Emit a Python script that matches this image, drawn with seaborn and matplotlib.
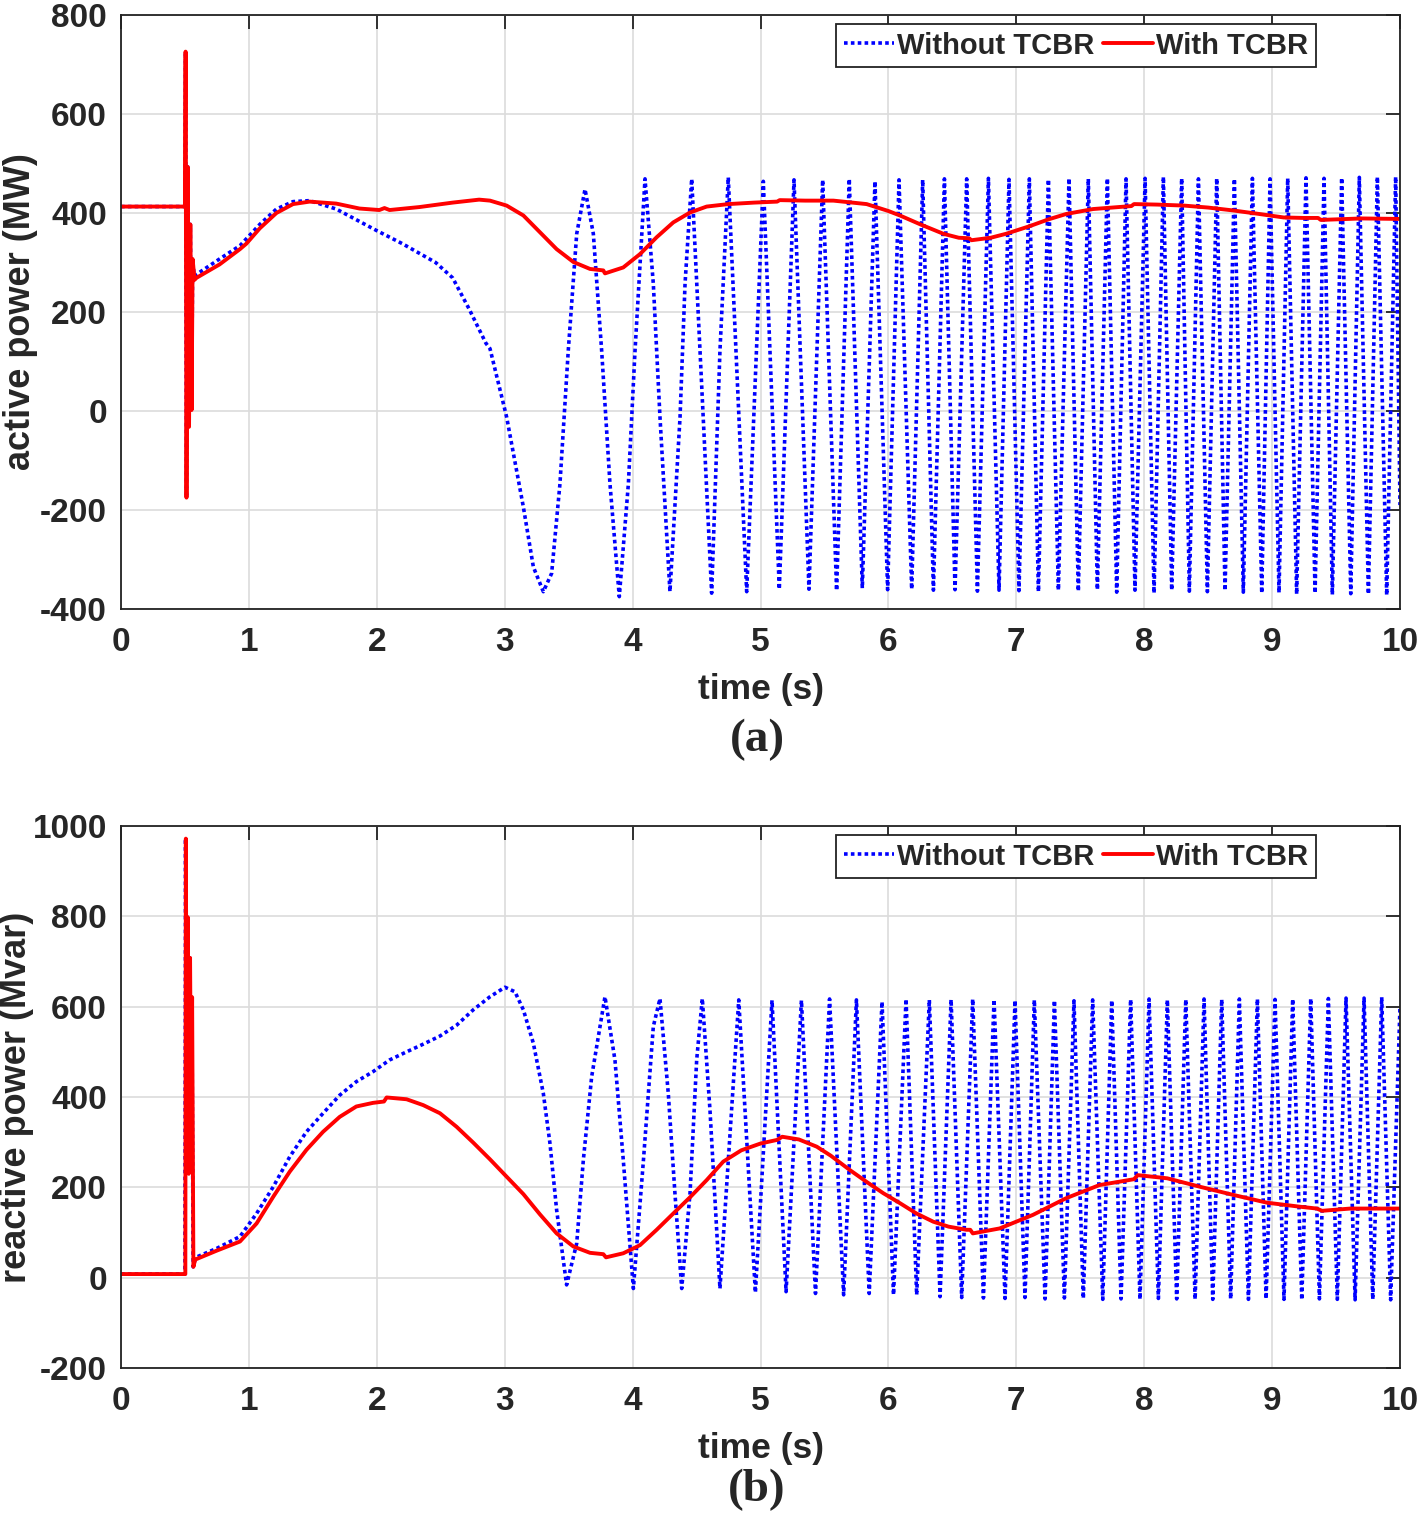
import matplotlib
matplotlib.use("Agg")
import matplotlib.pyplot as plt
import seaborn as sns

# ---- panel (a): active power (MW) ----
t_a_without = [0, 0.500, 0.505, 0.512, 0.522, 0.532, 0.542, 0.552, 0.560, 0.575,
               0.59, 0.77, 0.93, 1.085, 1.215, 1.345, 1.475, 1.683, 1.995, 2.20,
               2.46, 2.593, 2.72, 2.853, 2.885, 3.015, 3.146, 3.224, 3.302, 3.367,
               3.432, 3.497, 3.563, 3.628, 3.693, 3.758, 3.823, 3.896, 3.967, 4.019,
               4.097, 4.162, 4.214, 4.292, 4.371, 4.41, 4.462, 4.527, 4.618, 4.683,
               4.748, 4.892, 5.022, 5.147, 5.262, 5.379, 5.486, 5.595, 5.694, 5.796,
               5.895, 5.994, 6.083, 6.182, 6.268, 6.352, 6.438, 6.521, 6.612, 6.696,
               6.782, 6.865, 6.943, 7.021, 7.102, 7.173, 7.251, 7.329, 7.412, 7.485,
               7.563, 7.634, 7.712, 7.785, 7.858, 7.928, 8.007, 8.077, 8.150, 8.215,
               8.293, 8.353, 8.424, 8.494, 8.567, 8.632, 8.705, 8.775, 8.846, 8.919,
               8.984, 9.054, 9.122, 9.192, 9.265, 9.336, 9.406, 9.471, 9.544, 9.615,
               9.682, 9.753, 9.823, 9.896, 9.966, 10.0]
p_a_without = [413, 413, 726, -175, 493, -32, 377, 2, 307, 265,
               276, 307, 334, 377, 408, 423, 425, 408, 365, 338,
               300, 269, 207, 137, 126, -12, -194, -315, -365, -328,
               -147, 122, 358, 448, 358, 122, -147, -375, -147, 122,
               469, 257, -12, -365, -12, 257, 469, 122, -368, 122,
               472, -365, 464, -360, 467, -360, 467, -363, 469, -358,
               464, -361, 467, -360, 467, -362, 469, -361, 469, -364,
               470, -362, 468, -363, 469, -365, 468, -362, 470, -364,
               469, -361, 470, -366, 469, -362, 470, -368, 473, -362,
               470, -364, 469, -365, 470, -363, 469, -366, 470, -368,
               469, -367, 470, -370, 471, -368, 470, -371, 471, -369,
               472, -370, 473, -372, 473, -190]

t_a_with = [0, 0.500, 0.505, 0.512, 0.522, 0.532, 0.542, 0.552, 0.560, 0.575,
            0.59, 0.77, 0.93, 0.98, 1.085, 1.215, 1.345, 1.475, 1.683, 1.865,
            2.02, 2.06, 2.10, 2.333, 2.593, 2.80, 2.885, 3.015, 3.146, 3.276,
            3.406, 3.537, 3.667, 3.771, 3.784, 3.927, 4.058, 4.188, 4.318, 4.449,
            4.579, 4.748, 4.95, 5.13, 5.15, 5.35, 5.57, 5.83, 6.00, 6.09,
            6.25, 6.43, 6.55, 6.63, 6.65, 6.80, 6.92, 7.10, 7.25, 7.39,
            7.60, 7.90, 7.92, 8.10, 8.31, 8.50, 8.70, 8.90, 9.09, 9.25,
            9.36, 9.38, 9.70, 10.0]
p_a_with = [413, 413, 726, -175, 493, -32, 377, 2, 307, 265,
            269, 296, 327, 338, 369, 400, 418, 423, 419, 409,
            406, 410, 406, 412, 421, 427, 425, 415, 395, 361,
            327, 301, 287, 284, 278, 290, 317, 351, 381, 401,
            413, 418, 421, 423, 426, 425, 425, 418, 404, 395,
            377, 358, 350, 349, 345, 350, 358, 373, 387, 398,
            408, 414, 418, 417, 415, 411, 405, 398, 391, 390,
            390, 386, 389, 388]

# ---- panel (b): reactive power (Mvar) ----
t_b_without = [0, 0.500, 0.505, 0.512, 0.520, 0.528, 0.538, 0.546, 0.554, 0.564,
               0.585, 0.75, 0.93, 1.06, 1.19, 1.32, 1.45, 1.58, 1.71, 1.84,
               1.97, 2.10, 2.233, 2.363, 2.494, 2.624, 2.754, 2.885, 3.002, 3.08,
               3.146, 3.224, 3.302, 3.354, 3.406, 3.484, 3.563, 3.615, 3.680, 3.784,
               3.862, 3.927, 4.006, 4.085, 4.162, 4.214, 4.279, 4.331, 4.384, 4.449,
               4.501, 4.545, 4.605, 4.683, 4.83, 4.96, 5.09, 5.20, 5.32, 5.43,
               5.54, 5.65, 5.75, 5.85, 5.95, 6.04, 6.138, 6.221, 6.320, 6.404,
               6.490, 6.573, 6.659, 6.743, 6.826, 6.912, 6.990, 7.068, 7.141, 7.225,
               7.298, 7.376, 7.451, 7.524, 7.597, 7.676, 7.746, 7.819, 7.894, 7.967,
               8.038, 8.111, 8.181, 8.254, 8.325, 8.398, 8.468, 8.536, 8.606, 8.676,
               8.744, 8.815, 8.885, 8.953, 9.023, 9.093, 9.161, 9.232, 9.302, 9.370,
               9.440, 9.510, 9.578, 9.649, 9.719, 9.787, 9.857, 9.927, 10.0]
q_b_without = [8, 8, 972, 250, 798, 230, 708, 340, 621, 24,
               45, 65, 91, 142, 201, 268, 323, 364, 404, 434,
               456, 482, 500, 517, 535, 559, 593, 622, 643, 633,
               593, 519, 408, 297, 150, -16, 76, 261, 445, 622,
               482, 261, -24, 261, 556, 618, 408, 187, -24, 187,
               482, 618, 371, -24, 615, -33, 614, -31, 614, -35,
               617, -38, 615, -35, 611, -38, 617, -38, 615, -42,
               616, -44, 617, -45, 616, -46, 614, -44, 615, -47,
               614, -45, 613, -46, 615, -48, 614, -47, 616, -48,
               617, -46, 615, -47, 616, -48, 617, -48, 616, -47,
               617, -48, 617, -47, 616, -48, 617, -49, 618, -47,
               618, -48, 619, -49, 619, -48, 621, -49, 600]

t_b_with = [0, 0.503, 0.507, 0.515, 0.522, 0.530, 0.540, 0.548, 0.556, 0.566,
            0.580, 0.75, 0.93, 1.06, 1.19, 1.32, 1.45, 1.58, 1.71, 1.84,
            1.97, 2.056, 2.077, 2.233, 2.363, 2.494, 2.624, 2.754, 2.885, 3.0,
            3.146, 3.276, 3.406, 3.537, 3.667, 3.771, 3.792, 3.927, 4.058, 4.188,
            4.318, 4.449, 4.579, 4.709, 4.85, 5.00, 5.13, 5.17, 5.30, 5.44,
            5.55, 5.70, 5.83, 5.96, 6.09, 6.22, 6.35, 6.47, 6.61, 6.64,
            6.66, 6.87, 7.13, 7.39, 7.65, 7.92, 7.95, 8.18, 8.44, 8.70,
            8.96, 9.22, 9.35, 9.39, 9.61, 10.0]
q_b_with = [8, 8, 972, 250, 798, 230, 708, 340, 621, 24,
            40, 60, 80, 120, 179, 235, 283, 323, 356, 379,
            387, 390, 399, 395, 382, 364, 334, 299, 262, 228,
            185, 140, 98, 69, 55, 52, 45, 54, 72, 106,
            142, 178, 216, 257, 282, 297, 305, 312, 306, 290,
            270, 238, 212, 187, 165, 142, 124, 113, 106, 106,
            98, 109, 139, 176, 205, 218, 227, 220, 201, 183,
            166, 157, 153, 148, 153, 153]

sns.set_style("white")
plt.rcParams["font.family"] = ["Liberation Sans", "DejaVu Sans"]
plt.rcParams["font.weight"] = "bold"
plt.rcParams["axes.labelweight"] = "bold"
plt.rcParams["axes.unicode_minus"] = False

fig = plt.figure(figsize=(14.19, 15.16), dpi=100)
W, H = 1419, 1516


def panel(box, t1, y1, t2, y2, ylim, yticks, ylabel, label_x, letter, letter_y):
    l, t, r, b = box
    ax = fig.add_axes([l / W, 1 - b / H, (r - l) / W, (b - t) / H])
    sns.lineplot(x=t1, y=y1, ax=ax, color="#0000ff", lw=2.6, linestyle=(0, (1, 0.9)),
                 estimator=None, sort=False, label="Without TCBR")
    sns.lineplot(x=t2, y=y2, ax=ax, color="#ff0000", lw=2.8,
                 estimator=None, sort=False, label="With TCBR")
    ax.set_xlim(0, 10)
    ax.set_ylim(*ylim)
    ax.set_xticks(range(0, 11))
    ax.set_yticks(yticks)
    ax.grid(True, color="#dcdcdc", lw=1.2)
    ax.tick_params(direction="in", length=10, width=1.3, top=True, right=True,
                   labelsize=24, color="#222222")
    ax.tick_params(axis="x", pad=13)
    ax.tick_params(axis="y", pad=10)
    for s in ax.spines.values():
        s.set_linewidth(1.3)
        s.set_color("#222222")
    ax.set_xlabel("time (s)", fontsize=25.5, labelpad=11)
    ax.set_ylabel(ylabel, fontsize=26)
    # label anchor is the right-hand (descender) side of the rotated text
    ax.yaxis.set_label_coords((label_x - l) / (r - l), 0.5)
    top_frac = 1 - (9 / (b - t))
    leg = ax.legend(loc="upper right", bbox_to_anchor=((1316 - l) / (r - l), top_frac),
                    ncol=2, fontsize=21, handlelength=1.7, handletextpad=0.12,
                    columnspacing=0.3, borderpad=0.26, borderaxespad=0,
                    fancybox=False, framealpha=1, edgecolor="#222222")
    leg.get_frame().set_linewidth(1.3)
    fig.text(757 / W, 1 - letter_y / H, letter, ha="center", va="center",
             fontsize=34, fontweight="bold", family=["Liberation Serif", "DejaVu Serif"])
    return ax


panel((121, 15, 1400, 609), t_a_without, p_a_without, t_a_with, p_a_with,
      (-400, 800), range(-400, 801, 200), "active power (MW)", 38, "(a)", 740)
panel((121, 826, 1400, 1368), t_b_without, q_b_without, t_b_with, q_b_with,
      (-200, 1000), range(-200, 1001, 200), "reactive power (Mvar)", 34, "(b)", 1490)

fig.savefig("out.png", dpi=100)
